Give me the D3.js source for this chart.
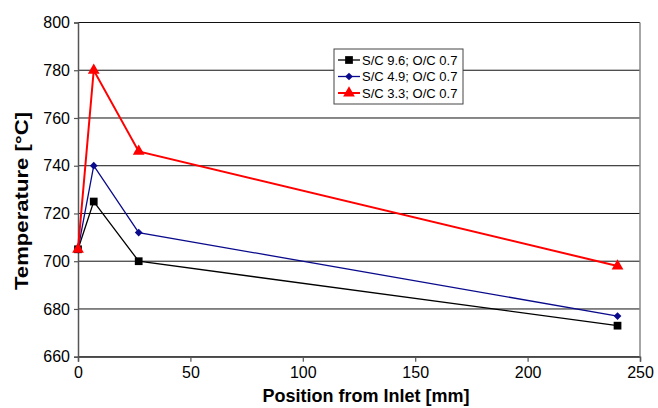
<!DOCTYPE html>
<html>
<head>
<meta charset="utf-8">
<script src="https://cdn.jsdelivr.net/npm/d3@7"></script>
<style>
  body { margin: 0; background: #fff; }
  text { font-family: "Liberation Sans", Arial, sans-serif; }
</style>
</head>
<body>
<div id="chart"></div>
<script>
// data
var positions = [0, 7, 27, 240];
var seriesNames = ["S/C 9.6; O/C 0.7", "S/C 4.9; O/C 0.7", "S/C 3.3; O/C 0.7"];
var tempSC96 = [705, 725, 700, 673];
var tempSC49 = [705, 740, 712, 677];
var tempSC33 = [705, 780, 746, 698];
var xTicks = [0, 50, 100, 150, 200, 250];
var yTicks = [660, 680, 700, 720, 740, 760, 780, 800];

var width = 658, height = 408;
var margin = { top: 22.5, right: 18, bottom: 51.3, left: 78 };

var svg = d3.select("#chart").append("svg")
  .attr("width", width)
  .attr("height", height);

var x = d3.scaleLinear().domain([0, 250]).range([margin.left, width - margin.right]);
var y = d3.scaleLinear().domain([660, 800]).range([height - margin.bottom, margin.top]);

// gridlines
svg.append("g")
  .selectAll("line")
  .data(yTicks)
  .enter().append("line")
  .attr("x1", x(0)).attr("x2", x(250))
  .attr("y1", function(d) { return y(d); })
  .attr("y2", function(d) { return y(d); })
  .attr("stroke", "#111")
  .attr("stroke-width", 1);

// right border
svg.append("line")
  .attr("x1", x(250)).attr("x2", x(250))
  .attr("y1", y(800)).attr("y2", y(660))
  .attr("stroke", "#888").attr("stroke-width", 1.5);

// axes
var yAxis = svg.append("g")
  .attr("transform", "translate(" + x(0) + ",0)")
  .call(d3.axisLeft(y).tickValues(yTicks).tickSize(4).tickPadding(4));
var xAxis = svg.append("g")
  .attr("transform", "translate(0," + y(660) + ")")
  .call(d3.axisBottom(x).tickValues(xTicks).tickSize(5).tickPadding(5));

[xAxis, yAxis].forEach(function(a) {
  a.select(".domain").attr("stroke", "#555").attr("stroke-width", 1.5);
  a.selectAll(".tick line").attr("stroke", "#555").attr("stroke-width", 1.2);
  a.selectAll("text")
    .style("font-family", "Liberation Sans, Arial, sans-serif")
    .style("font-size", "16px")
    .attr("fill", "#000");
});

// axis titles
svg.append("text")
  .attr("x", 366)
  .attr("y", 402)
  .attr("text-anchor", "middle")
  .style("font-size", "18px")
  .style("font-weight", "bold")
  .text("Position from Inlet [mm]");

svg.append("text")
  .attr("transform", "translate(28,201) rotate(-90)")
  .attr("text-anchor", "middle")
  .attr("textLength", 178)
  .attr("lengthAdjust", "spacingAndGlyphs")
  .style("font-size", "18px")
  .style("font-weight", "bold")
  .text("Temperature [°C]");

var series = [
  { name: seriesNames[0], values: tempSC96, color: "#000000", width: 1.3, symbol: d3.symbolSquare, size: 60, rot: 0 },
  { name: seriesNames[1], values: tempSC49, color: "#0a0a8c", width: 1.3, symbol: d3.symbolSquare, size: 30, rot: 45 },
  { name: seriesNames[2], values: tempSC33, color: "#ff0000", width: 2, symbol: d3.symbolTriangle, size: 60, rot: 0 }
];

var line = d3.line()
  .x(function(d, i) { return x(positions[i]); })
  .y(function(d) { return y(d); });

series.forEach(function(s) {
  svg.append("path")
    .datum(s.values)
    .attr("fill", "none")
    .attr("stroke", s.color)
    .attr("stroke-width", s.width)
    .attr("d", line);
  svg.append("g")
    .selectAll("path")
    .data(s.values)
    .enter().append("path")
    .attr("transform", function(d, i) {
      return "translate(" + x(positions[i]) + "," + y(d) + ") rotate(" + s.rot + ")";
    })
    .attr("d", d3.symbol().type(s.symbol).size(s.size))
    .attr("fill", s.color);
});

// legend
var lg = svg.append("g").attr("transform", "translate(334,49)");
lg.append("rect")
  .attr("width", 129).attr("height", 55)
  .attr("fill", "#fff")
  .attr("stroke", "#444").attr("stroke-width", 1);

series.forEach(function(s, i) {
  var yy = 11 + i * 16.5;
  lg.append("line")
    .attr("x1", 4).attr("x2", 26)
    .attr("y1", yy).attr("y2", yy)
    .attr("stroke", s.color).attr("stroke-width", s.width);
  lg.append("path")
    .attr("transform", "translate(15," + yy + ") rotate(" + s.rot + ")")
    .attr("d", d3.symbol().type(s.symbol).size(s.size))
    .attr("fill", s.color);
  lg.append("text")
    .attr("x", 28).attr("y", yy + 4.5)
    .style("font-size", "13px")
    .text(s.name);
});
</script>
</body>
</html>
